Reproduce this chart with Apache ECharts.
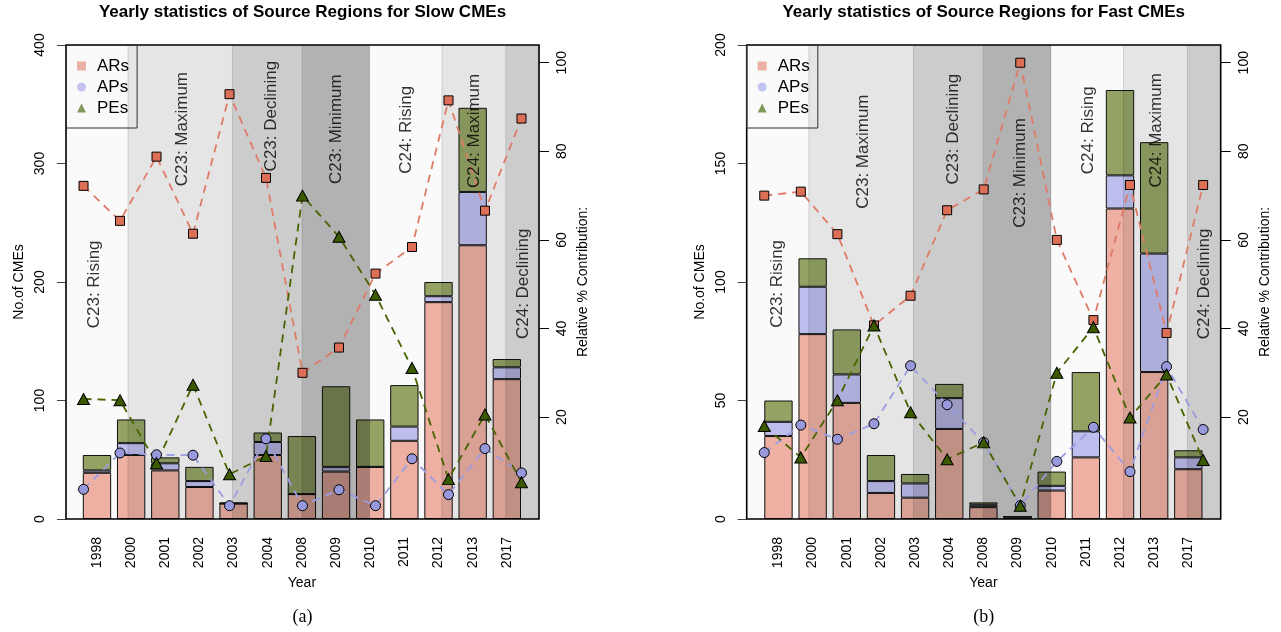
<!DOCTYPE html>
<html>
<head>
<meta charset="utf-8">
<script src="https://cdn.jsdelivr.net/npm/echarts@6/dist/echarts.min.js"></script>
<style>
html,body{margin:0;padding:0;background:#ffffff;}
#chart{width:1281px;height:632px;}
</style>
</head>
<body>
<div id="chart"></div>
<script>
// ---------------- DATA ----------------
const years = ['1998','2000','2001','2002','2003','2004','2008','2009','2010','2011','2012','2013','2017'];

// Slow CMEs: counts per source region
const slowAR = [39, 54, 41, 27, 13, 54, 21, 40, 44, 66, 183, 231, 118];
const slowAP = [2, 10, 6, 5, 0, 11, 0, 4, 0, 12, 5, 45, 10];
const slowPE = [13, 20, 5, 12, 1, 8, 49, 68, 40, 35, 12, 71, 7];
// Slow CMEs: relative % contribution
const slowARpct = [72.2, 64.3, 78.8, 61.4, 92.9, 74.0, 30.0, 35.7, 52.4, 58.4, 91.5, 66.6, 87.4];
const slowAPpct = [3.7, 11.9, 11.5, 11.4, 0.0, 15.1, 0.0, 3.6, 0.0, 10.6, 2.5, 12.9, 7.4];
const slowPEpct = [24.1, 23.8, 9.6, 27.3, 7.1, 11.2, 70.0, 60.7, 47.6, 31.1, 6.0, 20.6, 5.3];

// Fast CMEs: counts per source region
const fastAR = [35, 78, 49, 11, 9, 38, 5, 1, 12, 26, 131, 62, 21];
const fastAP = [6, 20, 12, 5, 6, 13, 1, 0, 2, 11, 14, 50, 5];
const fastPE = [9, 12, 19, 11, 4, 6, 1, 0, 6, 25, 36, 47, 3];
// Fast CMEs: relative % contribution
const fastARpct = [70.0, 70.9, 61.3, 40.7, 47.4, 66.7, 71.4, 100.0, 60.0, 41.9, 72.4, 39.0, 72.4];
const fastAPpct = [12.0, 18.2, 15.0, 18.5, 31.6, 22.8, 14.3, 0.0, 10.0, 17.7, 7.7, 31.4, 17.2];
const fastPEpct = [18.0, 10.9, 23.8, 40.7, 21.1, 10.5, 14.3, 0.0, 30.0, 40.3, 19.9, 29.6, 10.3];

// Solar-cycle phases (edges on the year-index scale, 1 = first year)
const phaseNames = ['C23: Rising', 'C23: Maximum', 'C23: Declining', 'C23: Minimum', 'C24: Rising', 'C24: Maximum', 'C24: Declining'];
const phaseEdges = [0.52, 2.22, 5.08, 6.99, 8.84, 10.82, 12.57, 13.48];

const countTicksSlow = [0, 100, 200, 300, 400];
const countTicksFast = [0, 50, 100, 150, 200];
const pctTicks = [20, 40, 60, 80, 100];

// ---------------- STYLE / LAYOUT ----------------
const FONT = '"Liberation Sans", Arial, Helvetica, sans-serif';
const shades = [0.02, 0.10, 0.20, 0.30, 0.02, 0.10, 0.20];
const barColors = {AR: '#F2B4A7', AP: '#C2C2F3', PE: '#97A767'};
const lineColors = {AR: '#DF7B66', AP: '#9C9CE2', PE: '#476400'};
const markColors = {AR: '#DE6F57', AP: '#9898DC', PE: '#3B5A00'};

const panels = [
  {
    title: 'Yearly statistics of Source Regions for Slow CMEs', caption: '(a)',
    boxLeft: 66, boxWidth: 473, barLeft: 79.9, barWidth: 444,
    countMax: 400, countTicks: countTicksSlow,
    AR: slowAR, AP: slowAP, PE: slowPE, ARp: slowARpct, APp: slowAPpct, PEp: slowPEpct,
    labelX: [1.30, 3.72, 6.14, 7.92, 9.84, 11.70, 13.06],
    labelY: [198, 329, 340, 329, 328.5, 327.5, 198.5]
  },
  {
    title: 'Yearly statistics of Source Regions for Fast CMEs', caption: '(b)',
    boxLeft: 746.7, boxWidth: 474, barLeft: 761.4, barWidth: 444,
    countMax: 200, countTicks: countTicksFast,
    AR: fastAR, AP: fastAP, PE: fastPE, ARp: fastARpct, APp: fastAPpct, PEp: fastPEpct,
    labelX: [1.36, 3.72, 6.16, 8.0, 9.85, 11.72, 13.04],
    labelY: [99.2, 155, 164.5, 146, 164, 164, 99.2]
  }
];
const TOP = 45, HEIGHT = 474;

const grid = [], xAxis = [], yAxis = [], series = [], legend = [], graphic = [];

panels.forEach((P, p) => {
  const gBox = grid.length;
  grid.push({left: P.boxLeft, top: TOP, width: P.boxWidth, height: HEIGHT, show: true,
    backgroundColor: 'transparent', borderColor: '#000', borderWidth: 1.6, z: 10, outerBoundsMode: 'none'});
  const gBar = grid.length;
  grid.push({left: P.barLeft, top: TOP, width: P.barWidth, height: HEIGHT, show: false, outerBoundsMode: 'none'});

  const xBox = xAxis.length;
  xAxis.push({type: 'value', gridIndex: gBox, min: 0.52, max: 13.48, show: false});
  const xBar = xAxis.length;
  xAxis.push({
    type: 'category', gridIndex: gBar, data: years, position: 'bottom',
    axisLine: {show: false}, axisTick: {show: false}, splitLine: {show: false},
    axisLabel: {interval: 0, rotate: 90, margin: 18, fontSize: 14, color: '#000', fontFamily: FONT},
    name: 'Year', nameLocation: 'middle', nameGap: 54,
    nameTextStyle: {fontSize: 14, color: '#000', fontFamily: FONT}
  });

  const yLeft = yAxis.length;
  yAxis.push({
    type: 'value', gridIndex: gBox, position: 'left', min: 0, max: P.countMax,
    interval: P.countMax / 4,
    axisLine: {show: false}, splitLine: {show: false},
    axisTick: {show: true, length: 9, lineStyle: {color: '#444', width: 1}},
    axisLabel: {rotate: 90, margin: 19, fontSize: 14, color: '#000', fontFamily: FONT,
      customValues: P.countTicks},
    name: 'No.of CMEs', nameLocation: 'middle', nameGap: 40, nameRotate: 90,
    nameTextStyle: {fontSize: 14, color: '#000', fontFamily: FONT}
  });
  const yRight = yAxis.length;
  yAxis.push({
    type: 'value', gridIndex: gBox, position: 'right', min: -3, max: 104,
    axisLine: {show: false}, splitLine: {show: false},
    axisTick: {show: true, length: 10, lineStyle: {color: '#000', width: 1}, customValues: pctTicks},
    axisLabel: {rotate: 90, margin: 16, fontSize: 14, color: '#000', fontFamily: FONT, customValues: pctTicks},
    name: 'Relative % Contribution:', nameLocation: 'middle', nameGap: 37, nameRotate: 90,
    nameTextStyle: {fontSize: 14, color: '#000', fontFamily: FONT}
  });
  const yBar = yAxis.length;
  yAxis.push({type: 'value', gridIndex: gBar, min: 0, max: P.countMax, show: false});

  // stacked bars
  [['ARs', P.AR, barColors.AR], ['APs', P.AP, barColors.AP], ['PEs', P.PE, barColors.PE]].forEach(([nm, vals, col]) => {
    series.push({
      type: 'bar', name: nm, stack: 'panel' + p, xAxisIndex: xBar, yAxisIndex: yBar,
      data: vals, barCategoryGap: '17%', z: 2, silent: true,
      itemStyle: {color: col, borderColor: '#111', borderWidth: 1}
    });
  });

  // phase background bands (drawn translucent over bars)
  series.push({
    type: 'custom', name: 'phases' + p, xAxisIndex: xBox, yAxisIndex: yLeft, z: 3, silent: true, clip: true,
    data: phaseNames.map((n, i) => [phaseEdges[i], phaseEdges[i + 1], i]),
    encode: {x: [0, 1]},
    renderItem: function (params, api) {
      const i = api.value(2);
      const a = api.coord([api.value(0), P.countMax]);
      const b = api.coord([api.value(1), 0]);
      return {
        type: 'rect',
        shape: {x: a[0], y: a[1], width: b[0] - a[0], height: b[1] - a[1]},
        style: {fill: 'rgba(0,0,0,' + shades[i] + ')', stroke: 'rgba(0,0,0,0.07)', lineWidth: 1}
      };
    }
  });

  // percentage lines
  [['AR %', P.ARp, 'AR', 'rect', 9], ['AP %', P.APp, 'AP', 'circle', 10], ['PE %', P.PEp, 'PE', 'triangle', [12, 11]]].forEach(([nm, vals, k, sym, sz]) => {
    series.push({
      type: 'line', name: nm, xAxisIndex: xBox, yAxisIndex: yRight, z: 5, silent: true,
      data: vals.map((v, i) => [i + 1, v]),
      symbol: sym, symbolSize: sz, showSymbol: true, showAllSymbol: true,
      lineStyle: {color: lineColors[k], width: 1.8, type: [8, 6]},
      itemStyle: {color: markColors[k], borderColor: '#000', borderWidth: 1}
    });
  });

  // phase labels
  series.push({
    type: 'scatter', name: 'phaseLabels' + p, xAxisIndex: xBox, yAxisIndex: yLeft, z: 6, silent: true,
    symbolSize: 1, itemStyle: {color: 'rgba(0,0,0,0)'},
    data: phaseNames.map((n, i) => ({name: n, value: [P.labelX[i], P.labelY[i]]})),
    label: {show: true, position: 'inside', formatter: '{b}', rotate: 90,
      fontSize: 17, color: '#000', fontFamily: FONT}
  });

  legend.push({
    left: P.boxLeft, top: TOP, orient: 'vertical', selectedMode: false, z: 11,
    padding: [12, 8, 11, 11], itemGap: 3, itemWidth: 9, itemHeight: 9,
    borderColor: '#333', borderWidth: 1, backgroundColor: 'transparent',
    textStyle: {fontSize: 17, color: '#000', fontFamily: FONT, padding: [0, 0, 0, 6], lineHeight: 18},
    data: [
      {name: 'ARs', icon: 'rect', itemStyle: {color: '#EDB0A4', borderWidth: 0}},
      {name: 'APs', icon: 'circle', itemStyle: {color: '#C4C4F0', borderWidth: 0}},
      {name: 'PEs', icon: 'triangle', itemStyle: {color: '#80985A', borderWidth: 0}}
    ]
  });

  const cx = P.boxLeft + P.boxWidth / 2;
  graphic.push({
    type: 'text', x: cx, y: 12, silent: true,
    style: {text: P.title, fontSize: 17, fontWeight: 'bold', fontFamily: FONT, fill: '#000',
      align: 'center', verticalAlign: 'middle', textAlign: 'center', textVerticalAlign: 'middle'}
  });
  graphic.push({
    type: 'text', x: cx, y: 617, silent: true,
    style: {text: P.caption, fontSize: 18, fontFamily: '"Liberation Serif", "DejaVu Serif", serif', fill: '#000',
      align: 'center', verticalAlign: 'middle', textAlign: 'center', textVerticalAlign: 'middle'}
  });
});

const chart = echarts.init(document.getElementById('chart'), null, {renderer: 'canvas'});
chart.setOption({
  animation: false,
  backgroundColor: '#ffffff',
  textStyle: {fontFamily: FONT},
  tooltip: {show: false},
  grid: grid, xAxis: xAxis, yAxis: yAxis, series: series, legend: legend, graphic: graphic
});
</script>
</body>
</html>
